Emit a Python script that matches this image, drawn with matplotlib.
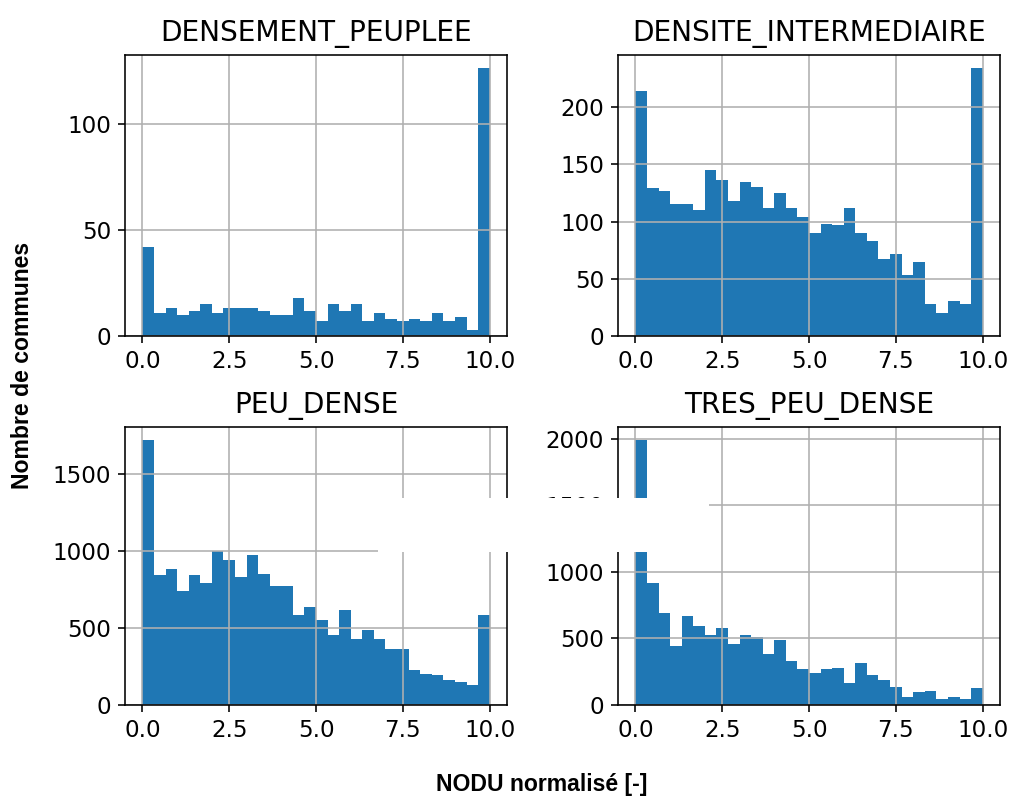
import numpy as np
import matplotlib
matplotlib.use("Agg")
import matplotlib.pyplot as plt
from matplotlib.patches import Rectangle

# counts per bin (30 bins between 0 and 10)
titles = ["DENSEMENT_PEUPLEE", "DENSITE_INTERMEDIAIRE", "PEU_DENSE", "TRES_PEU_DENSE"]

dense = [42, 11, 13, 10, 12, 15, 11, 13, 13, 13, 12, 10, 10, 18, 12,
         7, 15, 12, 15, 7, 11, 8, 7, 8, 7, 11, 7, 9, 3, 126]
inter = [214, 129, 127, 115, 115, 110, 145, 136, 118, 135, 130, 112, 125, 112, 104,
         90, 98, 97, 112, 90, 83, 67, 72, 53, 65, 28, 20, 31, 28, 234]
peu = [1716, 840, 884, 739, 840, 793, 995, 938, 829, 970, 850, 773, 773, 582, 636,
       548, 452, 615, 427, 483, 427, 364, 364, 227, 204, 194, 160, 150, 129, 582]
tres_peu = [1990, 914, 694, 447, 667, 591, 523, 577, 462, 523, 511, 381, 486, 328, 269,
            237, 269, 278, 164, 315, 225, 188, 137, 59, 95, 108, 46, 59, 46, 125]

yticks = [[0, 50, 100], [0, 50, 100, 150, 200],
          [0, 500, 1000, 1500], [0, 500, 1000, 1500, 2000]]

edges = np.linspace(0, 10, 31)
centers = (edges[:-1] + edges[1:]) / 2

fig = plt.figure(figsize=(1009 / 144, 796 / 144), dpi=144)

# axes boxes [left, bottom, width, height] in figure fraction
boxes = [[0.1239, 0.5779, 0.3786, 0.3530],
         [0.6125, 0.5779, 0.3786, 0.3530],
         [0.1239, 0.1143, 0.3786, 0.3493],
         [0.6125, 0.1143, 0.3786, 0.3493]]

series = [dense, inter, peu, tres_peu]
for i in range(4):
    ax = fig.add_axes(boxes[i])
    ax.hist(centers, bins=edges, weights=series[i], color="#1f77b4")
    ax.grid(True)
    ax.set_title(titles[i], fontsize=14, pad=7)
    ax.set_yticks(yticks[i])
    ax.set_xticks([0, 2.5, 5, 7.5, 10])
    ax.tick_params(labelsize=11.5)

fig.text(0.022, 0.541, "Nombre de communes", rotation=90, ha="center", va="center",
         fontsize=11.5, fontweight="bold", family="Liberation Sans")
fig.text(0.537, 0.014, "NODU normalisé [-]", ha="center", va="center",
         fontsize=11.5, fontweight="bold", family="Liberation Sans")

# white box that hides part of the middle in the reference
fig.add_artist(Rectangle((0.3746, 0.3065), 0.328, 0.0678, transform=fig.transFigure,
                         facecolor="white", edgecolor="none", zorder=10))

fig.savefig("out.png", dpi=144)
